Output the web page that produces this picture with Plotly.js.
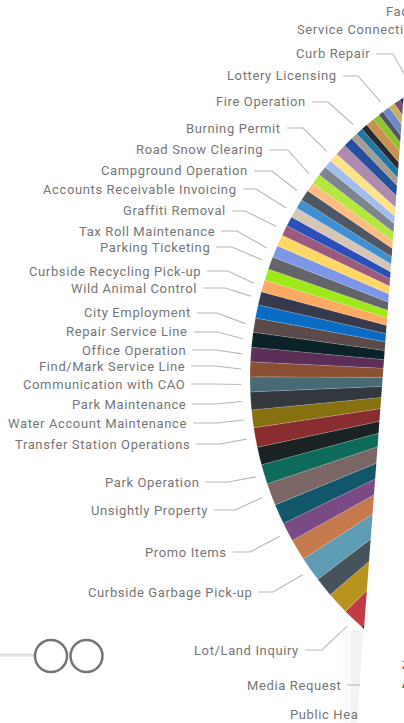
<!DOCTYPE html>
<html>
<head>
<meta charset="utf-8">
<script src="https://cdn.plot.ly/plotly-3.0.1.min.js"></script>
<style>
  html, body { margin: 0; padding: 0; background: #fff; overflow: hidden; width: 404px; height: 723px; }
  #frame { position: relative; width: 404px; height: 723px; overflow: hidden; }
  #chart { position: absolute; left: 0; top: 0; }
  .annotation-text { letter-spacing: 0.62px; }
</style>
</head>
<body>
<div id="frame"><div id="chart"></div></div>
<script>
// Service request volumes by category, clockwise from the lower left of the pie.
const categories = [
  "Lot/Land Inquiry", "Category 2", "Category 3", "Curbside Garbage Pick-up", "Category 5",
  "Promo Items", "Category 7", "Unsightly Property", "Park Operation", "Category 10",
  "Transfer Station Operations", "Water Account Maintenance", "Park Maintenance",
  "Communication with CAO", "Find/Mark Service Line", "Office Operation", "Repair Service Line",
  "City Employment", "Category 19", "Wild Animal Control", "Curbside Recycling Pick-up",
  "Category 22", "Parking Ticketing", "Tax Roll Maintenance", "Category 25", "Graffiti Removal",
  "Category 27", "Accounts Receivable Invoicing", "Category 29", "Campground Operation",
  "Category 31", "Road Snow Clearing", "Category 33", "Category 34", "Burning Permit",
  "Category 36", "Category 37", "Category 38", "Fire Operation", "Category 40", "Category 41",
  "Category 42", "Category 43", "Lottery Licensing", "Category 45", "Category 46", "Category 47",
  "Curb Repair", "Service Connection", "Facility", "All Other Requests", "Public Health",
  "Media Request", "Category 54"
];
const requestCounts = [
  39, 39, 34, 43, 37, 33, 35, 39, 34, 31, 34, 31, 31, 26, 26, 25, 26, 25, 23, 23, 21, 20, 22,
  21, 20, 18, 17, 18, 16, 19, 16, 18, 17, 14, 16, 20, 17, 12, 12, 11, 15, 12, 9, 13, 11, 11, 14,
  30, 12, 13, 2441, 12, 13, 15
];
const sliceColors = [
  "#c23b45", "#b8941f", "#46535a", "#5d9cb3", "#c47a4d", "#7a4a84", "#12566b", "#7a6765",
  "#0e6b5c", "#1b2224", "#8a2d31", "#87700f", "#33383e", "#476a74", "#8a4e33", "#5d2f58",
  "#0c2229", "#5a4a4a", "#0a6bc4", "#373a4c", "#fbaa62", "#9fe81a", "#63656b", "#7e96e6",
  "#fdd865", "#9b5a7e", "#2b4fb8", "#d5c6b6", "#3e90d2", "#4e5762", "#fdbc80", "#b5e83f",
  "#7d868f", "#a3bcee", "#fbe38a", "#ae8aae", "#264f9c", "#a59d90", "#1f77a8", "#262a30",
  "#c99150", "#8fc42f", "#4f5860", "#6e88c8", "#c9b25f", "#7d4c6a", "#1b2a6a",
  "#8a8f60", "#5a7ab0", "#b06050", "#dddddd", "#6a7f90", "#905a70", "#111418"
];

// Label placement: [name, right edge of the text, baseline row, elbow x of the leader].
const labelRows = [
  ["Curb Repair", 371, 54, 393], ["Lottery Licensing", 338, 76, 358],
  ["Fire Operation", 307, 102, 328], ["Burning Permit", 282, 128, 303],
  ["Road Snow Clearing", 264, 150, 288], ["Campground Operation", 249, 171, 272],
  ["Accounts Receivable Invoicing", 238, 189, 256], ["Graffiti Removal", 227, 211, 245],
  ["Tax Roll Maintenance", 216, 231, 237], ["Parking Ticketing", 211, 247, 232],
  ["Curbside Recycling Pick-up", 202, 271, 228], ["Wild Animal Control", 198, 288, 225],
  ["City Employment", 192, 313, 217], ["Repair Service Line", 189, 332, 217],
  ["Office Operation", 187, 350, 216], ["Find/Mark Service Line", 186, 366, 215],
  ["Communication with CAO", 186, 384, 215], ["Park Maintenance", 187, 404, 216],
  ["Water Account Maintenance", 188, 423, 217], ["Transfer Station Operations", 191, 444, 220],
  ["Park Operation", 200, 482, 228], ["Unsightly Property", 209, 510, 235],
  ["Promo Items", 228, 552, 250], ["Curbside Garbage Pick-up", 253, 592, 273],
  ["Lot/Land Inquiry", 300, 650, 322]
];

// The pie is larger than the window, so the figure is wider and the window crops it.
const W = 1166, H = 756;
const cx = 583, cy = 378, R = 333;
const startClock = 221.6;
const px = x => x / W;
const py = y => 1 - y / H;

const total = requestCounts.reduce((a, b) => a + b, 0);
function midAngle(name) {
  const i = categories.indexOf(name);
  const before = requestCounts.slice(0, i).reduce((a, b) => a + b, 0);
  return startClock + (before + requestCounts[i] / 2) / total * 360;
}
function edgePoint(name, radius) {
  const a = midAngle(name) * Math.PI / 180;
  return [cx + radius * Math.sin(a), cy - radius * Math.cos(a)];
}

const labelFont = { family: "Roboto, sans-serif", size: 13, color: "#767676" };
const annotations = [];
const shapes = [];
const leaderStyle = { color: "#b8b8b8", width: 1.1 };

labelRows.forEach(([name, right, row, elbow]) => {
  annotations.push({
    xref: "paper", yref: "paper", x: px(right), y: py(row), xanchor: "right", yanchor: "middle",
    text: name, showarrow: false, font: labelFont, borderpad: 0
  });
  const tip = edgePoint(name, R + 9);
  shapes.push({
    type: "path", xref: "paper", yref: "paper", line: leaderStyle,
    path: `M${px(right + 5)},${py(row)} L${px(elbow)},${py(row)} L${px(tip[0])},${py(tip[1])}`
  });
});

// Labels whose leaders lie beyond the cropped side, and the ones cut by the panel.
[["Facility", 385, 12], ["Service Connection", 296, 30], ["Public Hea", 289, 714]].forEach(([t, left, row]) => {
  annotations.push({
    xref: "paper", yref: "paper", x: px(left), y: py(row), xanchor: "left", yanchor: "middle",
    text: t, showarrow: false, font: labelFont, borderpad: 0
  });
});
annotations.push({
  xref: "paper", yref: "paper", x: px(342), y: py(685), xanchor: "right", yanchor: "middle",
  text: "Media Request", showarrow: false, font: labelFont, borderpad: 0
});

const poly = (pts, fill) => ({
  type: "path", xref: "paper", yref: "paper", fillcolor: fill, line: { width: 0 },
  path: "M" + pts.map(p => `${px(p[0])},${py(p[1])}`).join(" L") + " Z"
});

// Soft shadow next to the panel, the Media Request leader, then the panel itself.
shapes.push(poly([[343, 630], [351, 630], [351, 723], [343, 723]], "#fafafa"));
shapes.push(poly([[351, 630], [364, 630], [357, 723], [351, 723]], "#f3f3f3"));
shapes.push({
  type: "line", xref: "paper", yref: "paper", line: leaderStyle,
  x0: px(347), y0: py(685), x1: px(360), y1: py(685)
});
shapes.push(poly([[403.6, 96], [357, 723], [700, 723], [700, 96]], "#ffffff"));

// Slider control at the lower left.
shapes.push({
  type: "line", xref: "paper", yref: "paper", line: { color: "#e2e2e2", width: 3 },
  x0: px(0), y0: py(655), x1: px(36), y1: py(655)
});
[[51, 656], [86.5, 656]].forEach(([x, y]) => {
  shapes.push({
    type: "circle", xref: "paper", yref: "paper", fillcolor: "#ffffff",
    line: { color: "#757575", width: 2.5 },
    x0: px(x - 16), x1: px(x + 16), y0: py(y + 16), y1: py(y - 16)
  });
});

// Heading on the panel, mostly past the right side of the window.
[["Z", 665, 10], ["A", 683, 13]].forEach(([t, row, size]) => {
  annotations.push({
    xref: "paper", yref: "paper", x: px(401), y: py(row), xanchor: "left", yanchor: "middle",
    text: t, showarrow: false, font: { family: "Roboto, sans-serif", size: size, color: "#333333" }, borderpad: 0
  });
});

const trace = {
  type: "pie",
  labels: categories,
  values: requestCounts,
  sort: false,
  direction: "clockwise",
  rotation: startClock,
  textinfo: "none",
  hoverinfo: "label+value",
  showlegend: false,
  domain: {
    x: [px(cx - R), px(cx + R)],
    y: [py(cy + R), py(cy - R)]
  },
  marker: { colors: sliceColors, line: { color: "rgba(255,255,255,0.3)", width: 0.5 } }
};

Plotly.newPlot("chart", [trace], {
  width: W, height: H,
  margin: { l: 0, r: 0, t: 0, b: 0 },
  paper_bgcolor: "#ffffff",
  showlegend: false,
  annotations, shapes
}, { staticPlot: true, displayModeBar: false });
</script>
</body>
</html>
